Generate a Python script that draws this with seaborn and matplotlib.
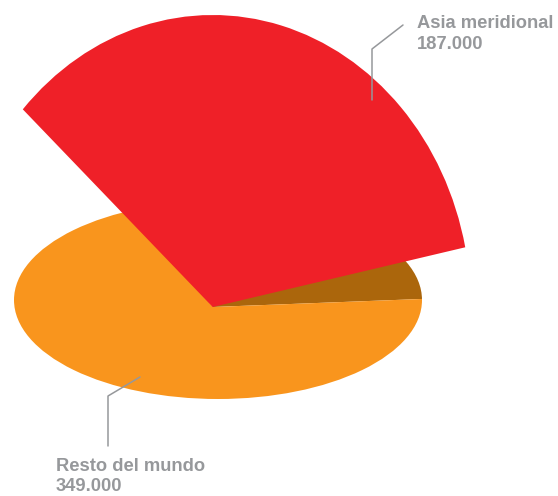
import numpy as np
import matplotlib
matplotlib.use("Agg")
import matplotlib.pyplot as plt
import seaborn as sns
from matplotlib.patches import Ellipse
from matplotlib.transforms import Affine2D

# valores do grafico
regioes = ["Asia meridional", "Resto del mundo"]
valores = [187000, 349000]
rotulos = ["187.000", "349.000"]

VERMELHO = "#ef2028"
LARANJA = "#f9951d"
MARROM = "#ab660c"
CINZA = "#96989b"

sns.set_theme(style="white")
plt.rcParams["font.family"] = ["Liberation Sans", "DejaVu Sans"]

fig = plt.figure(figsize=(5.58, 4.96), dpi=100)
ax = fig.add_axes([0, 0, 1, 1])

# o eixo usa pixels da imagem, com y para cima
H = 496
apice = (212.7, H - 307)

# base: pizza inteira recortada pela elipse
base, _ = ax.pie(valores, colors=[MARROM, LARANJA], startangle=2.2,
                 center=apice, radius=400, wedgeprops={"linewidth": 0})
elipse = Ellipse((218, H - 300), 408, 198, transform=ax.transData)
for w in base:
    w.set_clip_on(True)
    w.set_clip_path(elipse)

# fatia destacada (so a de Asia meridional aparece)
topo, _ = ax.pie(valores, colors=[VERMELHO, "none"], startangle=11.8,
                 wedgeprops={"linewidth": 0})
deforma = Affine2D().scale(258, 292).translate(*apice) + ax.transData
topo[0].set_transform(deforma)
topo[0].set_zorder(3)
topo[1].set_visible(False)

ax.set_aspect("auto")
ax.set_xlim(0, 558)
ax.set_ylim(0, H)
ax.axis("off")

# linhas de chamada
ax.plot([372, 372, 403], [H - 100, H - 49, H - 25], color=CINZA, lw=1.1, zorder=4)
ax.plot([108, 108, 140], [H - 446, H - 396, H - 377], color=CINZA, lw=1.1, zorder=4)

# textos
ax.text(417, H - 28, regioes[0], color=CINZA, fontsize=13.2, fontweight="bold", va="baseline")
ax.text(417, H - 49, rotulos[0], color=CINZA, fontsize=13.2, fontweight="bold", va="baseline")
ax.text(56, H - 471, regioes[1], color=CINZA, fontsize=13.2, fontweight="bold", va="baseline")
ax.text(56, H - 491, rotulos[1], color=CINZA, fontsize=13.2, fontweight="bold", va="baseline")

fig.savefig("out.png", dpi=100)
